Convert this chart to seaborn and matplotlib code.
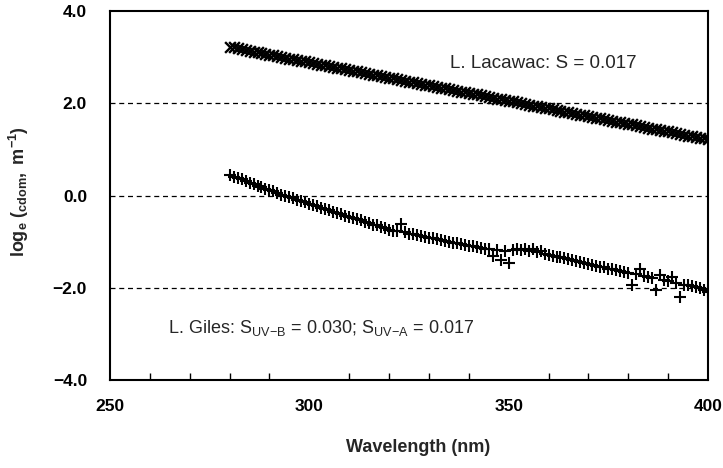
import numpy as np
import pandas as pd
import matplotlib
matplotlib.use("Agg")
import matplotlib.pyplot as plt
from matplotlib.ticker import MultipleLocator
import seaborn as sns

# ---------------- data ----------------
wavelength = list(range(280, 401))

lacawac = [
    3.22, 3.21, 3.19, 3.17, 3.16, 3.14, 3.12, 3.11, 3.09, 3.07,
    3.05, 3.04, 3.02, 3.01, 2.99, 2.97, 2.95, 2.94, 2.92, 2.91,
    2.89, 2.87, 2.86, 2.84, 2.82, 2.80, 2.79, 2.77, 2.76, 2.74,
    2.72, 2.71, 2.69, 2.67, 2.65, 2.64, 2.62, 2.61, 2.59, 2.57,
    2.55, 2.54, 2.52, 2.50, 2.49, 2.47, 2.45, 2.44, 2.42, 2.40,
    2.39, 2.37, 2.35, 2.34, 2.32, 2.30, 2.29, 2.27, 2.25, 2.24,
    2.22, 2.20, 2.19, 2.17, 2.15, 2.14, 2.12, 2.10, 2.09, 2.07,
    2.05, 2.04, 2.02, 2.00, 1.99, 1.97, 1.95, 1.94, 1.92, 1.90,
    1.89, 1.87, 1.85, 1.84, 1.82, 1.80, 1.79, 1.77, 1.75, 1.74,
    1.72, 1.70, 1.69, 1.67, 1.65, 1.64, 1.62, 1.60, 1.59, 1.57,
    1.55, 1.54, 1.52, 1.50, 1.49, 1.47, 1.45, 1.44, 1.42, 1.40,
    1.39, 1.37, 1.35, 1.34, 1.32, 1.30, 1.29, 1.27, 1.25, 1.24,
    1.22,
]

giles = [
    0.45, 0.41, 0.38, 0.35, 0.31, 0.28, 0.25, 0.21, 0.19, 0.15,
    0.12, 0.09, 0.06, 0.02, 0.00, -0.04, -0.06, -0.10, -0.12, -0.15,
    -0.18, -0.21, -0.23, -0.27, -0.29, -0.32, -0.35, -0.38, -0.40, -0.44,
    -0.46, -0.49, -0.52, -0.54, -0.57, -0.60, -0.63, -0.65, -0.69, -0.71,
    -0.74, -0.76, -0.77, -0.62, -0.80, -0.83, -0.84, -0.86, -0.88, -0.90,
    -0.92, -0.93, -0.95, -0.97, -0.99, -1.00, -1.02, -1.04, -1.06, -1.07,
    -1.09, -1.10, -1.12, -1.14, -1.15, -1.17, -1.31, -1.19, -1.40, -1.21,
    -1.47, -1.18, -1.16, -1.19, -1.15, -1.20, -1.17, -1.22, -1.20, -1.27,
    -1.29, -1.31, -1.33, -1.34, -1.36, -1.38, -1.40, -1.42, -1.44, -1.46,
    -1.48, -1.50, -1.52, -1.55, -1.56, -1.59, -1.60, -1.62, -1.64, -1.66,
    -1.67, -1.94, -1.71, -1.60, -1.74, -1.76, -1.78, -2.05, -1.73, -1.84,
    -1.86, -1.76, -1.90, -2.20, -1.93, -1.95, -1.96, -1.99, -2.01, -2.05,
    -2.10,
]

x_ticks = [250, 300, 350, 400]
y_ticks = [-4.0, -2.0, 0.0, 2.0, 4.0]
grid_levels = [-2.0, 0.0, 2.0]

label_lacawac = "L. Lacawac: S = 0.017"
label_giles = r"L. Giles: S$_{\rm UV\!-\!B}$ = 0.030; S$_{\rm UV\!-\!A}$ = 0.017"

# ---------------- styling ----------------
sns.set_theme(style="white")
plt.rcParams["font.family"] = ["Liberation Sans", "DejaVu Sans"]
plt.rcParams["mathtext.fontset"] = "custom"
plt.rcParams["mathtext.rm"] = "Liberation Sans"
plt.rcParams["mathtext.it"] = "Liberation Sans:italic"
plt.rcParams["mathtext.bf"] = "Liberation Sans:bold"

fig = plt.figure(figsize=(7.23, 4.68), dpi=100)
ax = fig.add_axes([110 / 723, 1 - 380 / 468, 598 / 723, 369 / 468])

df_l = pd.DataFrame({"wl": wavelength, "val": lacawac})
df_g = pd.DataFrame({"wl": wavelength, "val": giles})

sns.scatterplot(data=df_l, x="wl", y="val", marker="x", color="black",
                s=60, linewidth=1.7, ax=ax, zorder=3)
sns.scatterplot(data=df_g, x="wl", y="val", marker="+", color="black",
                s=85, linewidth=1.5, ax=ax, zorder=3)

for lvl in grid_levels:
    ax.axhline(lvl, color="black", lw=0.9, ls=(0, (4, 3)), zorder=1)

ax.set_xlim(x_ticks[0], x_ticks[-1])
ax.set_ylim(y_ticks[0], y_ticks[-1])
ax.set_xticks(x_ticks)
ax.set_yticks(y_ticks)
ax.set_yticklabels([f"{v:.1f}".replace("-", "\u2212") for v in y_ticks])
ax.xaxis.set_minor_locator(MultipleLocator(10))

ax.tick_params(axis="both", which="major", direction="inout", length=9,
               width=1.2, color="black", labelsize=12.5, labelcolor="black")
ax.tick_params(axis="x", which="major", pad=9)
ax.tick_params(axis="y", which="major", pad=12)
ax.tick_params(axis="x", which="minor", direction="in", length=5,
               width=1.0, color="black", bottom=True)
for lab in ax.get_xticklabels() + ax.get_yticklabels():
    lab.set_fontweight("bold")

for sp in ax.spines.values():
    sp.set_visible(True)
    sp.set_color("black")
    sp.set_linewidth(1.5)

ax.set_xlabel("Wavelength (nm)", fontsize=13, fontweight="bold")
ax.xaxis.set_label_coords((418 - 110) / 598, -(448 - 380) / 369,
                          transform=ax.transAxes)
ax.xaxis.label.set_va("center")
ax.set_ylabel(r"$\mathbf{log_e}$ $\mathbf{(_{cdom},\ m^{-1})}$", fontsize=13)
ax.yaxis.set_label_coords(-(110 - 19) / 598, (380 - 192) / 369,
                          transform=ax.transAxes)
ax.yaxis.label.set_va("center")

ax.text(335.2, 2.87, label_lacawac, fontsize=13.5, ha="left", va="center")
ax.text(264.5, -2.87, label_giles, fontsize=13, ha="left", va="center")

fig.savefig("out.png", dpi=100)
